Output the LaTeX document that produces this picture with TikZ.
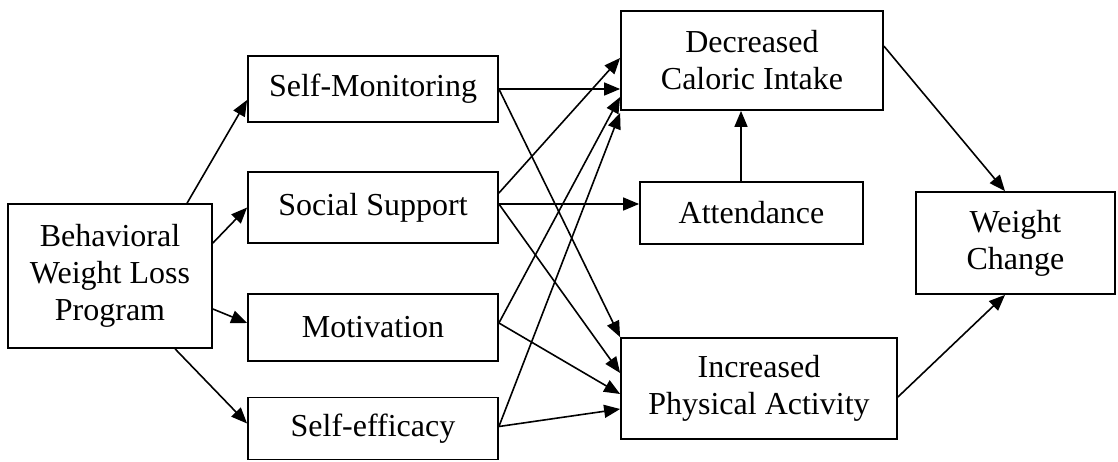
\documentclass[tikz,border=0pt]{standalone}
\usepackage{fontspec}
\setmainfont{Liberation Serif}
\usetikzlibrary{arrows.meta}
\begin{document}
\begin{tikzpicture}[x=1pt,y=-1pt,
  box/.style={draw, line width=1.8pt, inner sep=0pt, align=center,
    font=\fontsize{32}{37}\selectfont},
  conn/.style={line width=1.6pt, -{Triangle[length=16pt,width=13pt]}}]
\useasboundingbox (0,0) rectangle (1118,461);
\node[box, minimum width=204pt, minimum height=144pt] (bwlp) at (110,276) {Behavioral\\Weight Loss\\Program};
\node[box, minimum width=250pt, minimum height=66pt] (sm) at (373,89) {Self-Monitoring};
\node[box, minimum width=250pt, minimum height=71pt] (ss) at (373,207.5) {Social Support};
\node[box, minimum width=250pt, minimum height=67pt] (mot) at (373,327.5) {Motivation};
\node[box, minimum width=250pt, minimum height=62pt] (se) at (373,428.5) {Self-efficacy};
\node[box, minimum width=262pt, minimum height=99pt] (dci) at (752,60.5) {Decreased\\Caloric Intake};
\node[box, minimum width=223pt, minimum height=62pt] (att) at (751.5,213) {Attendance};
\node[box, minimum width=276pt, minimum height=101pt] (ipa) at (759,388.5) {Increased\\Physical Activity};
\node[box, minimum width=199pt, minimum height=102pt] (wc) at (1015.5,243) {Weight\\Change};

\coordinate (ssr) at ([yshift=3.5pt]ss.east);
\coordinate (motr) at ([yshift=4.5pt]mot.east);
\coordinate (ser) at ([yshift=2pt]se.east);
\coordinate (attn) at ([xshift=-10.5pt]att.north);

\draw[conn] ([xshift=180pt]bwlp.north west) -- ([yshift=-11pt]sm.west);
\draw[conn] ([yshift=33pt]bwlp.east) -- (ss.west);
\draw[conn] ([yshift=-33pt]bwlp.east) -- ([yshift=4.5pt]mot.west);
\draw[conn] ([xshift=168pt]bwlp.south west) -- ([yshift=5pt]se.west);

\draw[conn] (sm.east) -- ([yshift=-28.5pt]dci.west);
\draw[conn] (sm.east) -- (ipa.north west);
\draw[conn] ([yshift=14.5pt]ss.east) -- ([yshift=2.5pt]dci.west);
\draw[conn] (ssr) -- (ssr -| att.west);
\draw[conn] (ssr) -- ([yshift=15.5pt]ipa.west);
\draw[conn] (motr) -- ([yshift=-36.5pt]dci.west);
\draw[conn] (motr) -- ([yshift=-5.5pt]ipa.west);
\draw[conn] (ser) -- ([yshift=-2pt]dci.south west);
\draw[conn] (ser) -- ([yshift=-20.5pt]ipa.west);
\draw[conn] (attn) -- (attn |- dci.south);
\draw[conn] ([yshift=-36pt]dci.north east) -- ([xshift=-10.5pt]wc.north);
\draw[conn] ([yshift=-8.5pt]ipa.east) -- ([xshift=-10.5pt]wc.south);
\end{tikzpicture}
\end{document}
